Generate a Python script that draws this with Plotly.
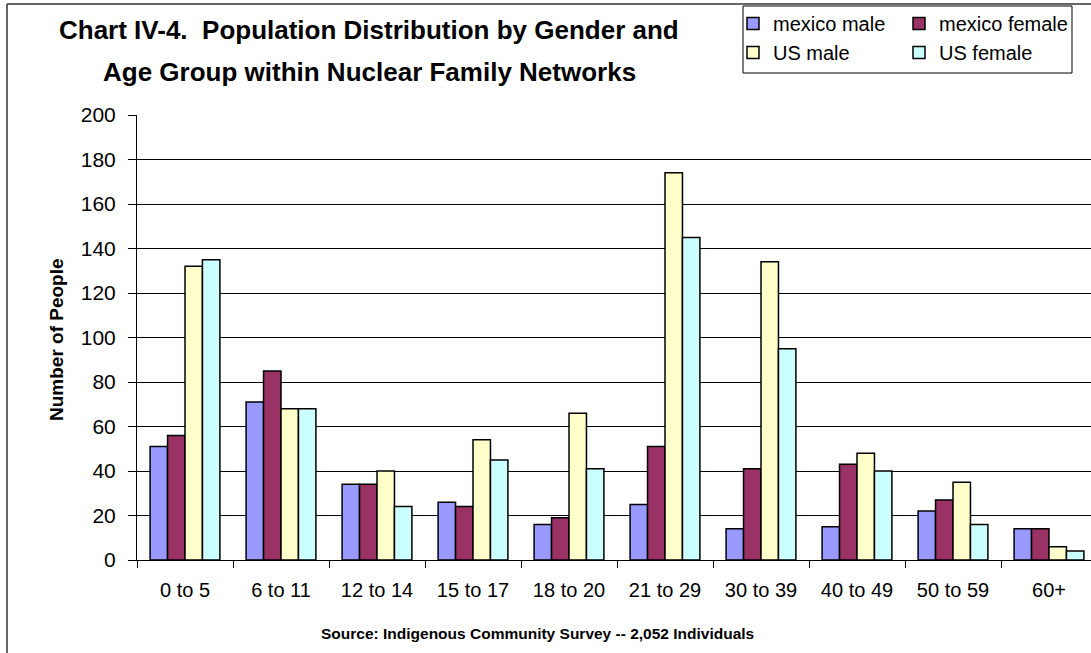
import plotly.graph_objects as go

# ---------------- data ----------------
categories = ["0 to 5", "6 to 11", "12 to 14", "15 to 17", "18 to 20",
              "21 to 29", "30 to 39", "40 to 49", "50 to 59", "60+"]
mexico_male = [51, 71, 34, 26, 16, 25, 14, 15, 22, 14]
mexico_female = [56, 85, 34, 24, 19, 51, 41, 43, 27, 14]
us_male = [132, 68, 40, 54, 66, 174, 134, 48, 35, 6]
us_female = [135, 68, 24, 45, 41, 145, 95, 40, 16, 4]
series_names = ["mexico male", "mexico female", "US male", "US female"]
y_tick_values = [0, 20, 40, 60, 80, 100, 120, 140, 160, 180, 200]

title_line1 = "Chart IV-4.  Population Distribution by Gender and"
title_line2 = "Age Group within Nuclear Family Networks"
y_title = "Number of People"
source_note = "Source: Indigenous Community Survey -- 2,052 Individuals"

# ---------------- styling / geometry ----------------
colors = ["#9999FF", "#993366", "#FFFFCC", "#CCFFFF"]
legend_of = ["legend", "legend2", "legend", "legend2"]   # two legend columns
W, H = 1091, 653
ML, MR, MT, MB = 137, 0, 115, 93
PW, PH = W - ML - MR, H - MT - MB
CAT_W = 96.0


def px_x(px):
    return (px - ML) / PW


def px_y(py):
    return (H - MB - py) / PH


FONT = "Liberation Sans, Arial, sans-serif"

fig = go.Figure()
all_series = [mexico_male, mexico_female, us_male, us_female]
for i, (name, vals) in enumerate(zip(series_names, all_series)):
    fig.add_trace(go.Bar(
        x=categories, y=vals, name=name,
        marker=dict(color=colors[i], line=dict(color="black", width=1.5)),
        legend=legend_of[i],
    ))

legend_common = dict(
    orientation="v",
    font=dict(family=FONT, size=20, color="black"),
    bgcolor="rgba(0,0,0,0)", borderwidth=0,
    xanchor="left", yanchor="top", itemwidth=30,
    traceorder="normal", tracegroupgap=0,
)

fig.update_layout(
    width=W, height=H,
    margin=dict(l=ML, r=MR, t=MT, b=MB, pad=0, autoexpand=False),
    paper_bgcolor="white", plot_bgcolor="white",
    barmode="group", bargap=0.273, bargroupgap=0,
    showlegend=True,
    legend=dict(**legend_common, x=px_x(733), y=px_y(4)),
    legend2=dict(**legend_common, x=px_x(899), y=px_y(4)),
    xaxis=dict(
        type="category", range=[-0.5, -0.5 + PW / CAT_W],
        showline=True, linecolor="black", linewidth=1,
        ticks="outside", tickson="boundaries", ticklen=7, tickcolor="black",
        showgrid=False, ticklabelstandoff=12,
        tickfont=dict(family=FONT, size=20, color="black"),
    ),
    yaxis=dict(
        range=[0, 200], tickvals=y_tick_values,
        showline=True, linecolor="black", linewidth=1,
        ticks="outside", ticklen=8, tickcolor="black",
        showgrid=True, gridcolor="black", gridwidth=1,
        zeroline=False, ticklabelstandoff=8,
        tickfont=dict(family=FONT, size=21, color="black"),
    ),
    annotations=[
        dict(text=title_line1, x=px_x(369), y=px_y(30), xref="paper", yref="paper",
             showarrow=False, xanchor="center", yanchor="middle",
             font=dict(family=FONT, size=26, color="black", weight="bold")),
        dict(text=title_line2, x=px_x(369), y=px_y(72), xref="paper", yref="paper",
             showarrow=False, xanchor="center", yanchor="middle",
             font=dict(family=FONT, size=26, color="black", weight="bold")),
        dict(text=y_title, x=px_x(56), y=px_y(340), xref="paper", yref="paper",
             showarrow=False, xanchor="center", yanchor="middle", textangle=-90,
             font=dict(family=FONT, size=19, color="black", weight="bold")),
        dict(text=source_note, x=px_x(537), y=px_y(633), xref="paper", yref="paper",
             showarrow=False, xanchor="center", yanchor="middle",
             font=dict(family=FONT, size=15.5, color="black", weight="bold")),
    ],
    shapes=[
        # outer chart frame (left and top visible, rest cropped)
        dict(type="line", xref="paper", yref="paper", x0=px_x(7), x1=px_x(1095),
             y0=px_y(4), y1=px_y(4), line=dict(color="#333333", width=1.5)),
        dict(type="line", xref="paper", yref="paper", x0=px_x(7), x1=px_x(7),
             y0=px_y(4), y1=px_y(660), line=dict(color="#333333", width=1.5)),
        # legend box
        dict(type="rect", xref="paper", yref="paper", x0=px_x(743), x1=px_x(1072),
             y0=px_y(6), y1=px_y(73), line=dict(color="black", width=1)),
    ],
)

fig.write_html("out.html",
               config={"displayModeBar": False},
               post_script="document.body.style.margin='0';document.body.style.overflow='hidden';")
